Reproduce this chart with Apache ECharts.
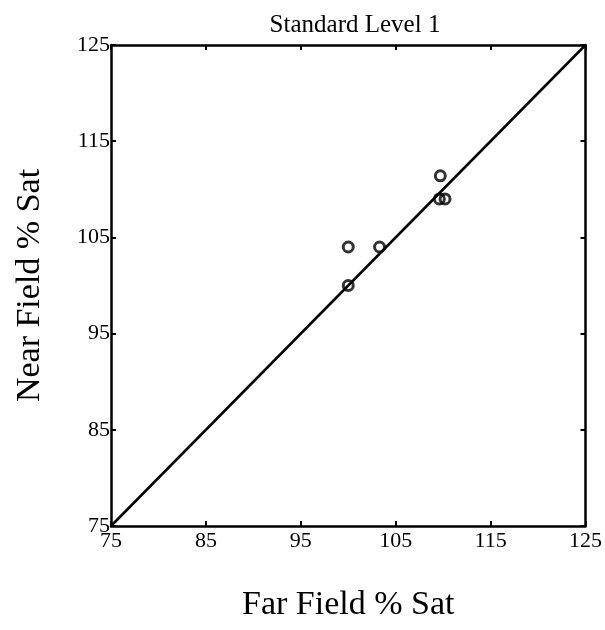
<!DOCTYPE html>
<html>
<head>
<meta charset="utf-8">
<script src="https://cdn.jsdelivr.net/npm/echarts@6/dist/echarts.min.js"></script>
<style>html,body{margin:0;padding:0;background:#fff;}#c{width:605px;height:630px;}</style>
</head>
<body>
<div id="c"></div>
<script>
const titleText = "Standard Level 1";
const xName = "Far Field % Sat";
const yName = "Near Field % Sat";
const axisMin = 75, axisMax = 125, axisStep = 10;
const farField = [109.7, 109.6, 110.2, 100.0, 103.3, 100.0];
const nearField = [111.4, 109.0, 109.0, 104.0, 104.0, 100.0];
const identityLine = [[75, 75], [125, 125]];

const points = farField.map((x, i) => [x, nearField[i]]);
const font = "'Liberation Serif', 'DejaVu Serif', serif";

const baseAxis = {
  min: axisMin, max: axisMax, interval: axisStep,
  axisLine: { show: true, onZero: false, lineStyle: { color: '#000', width: 2.5 } },
  axisTick: { show: true, inside: true, length: 5, lineStyle: { color: '#000', width: 2 } },
  splitLine: { show: false }
};

const chart = echarts.init(document.getElementById('c'), null, { renderer: 'canvas' });
chart.setOption({
  backgroundColor: '#fff',
  animation: false,
  title: {
    text: titleText, left: 350, top: 8, textAlign: 'center',
    textStyle: { fontFamily: font, fontSize: 25, fontWeight: 'normal', color: '#000' }
  },
  grid: { left: 111, right: 18, top: 45, bottom: 104 },
  xAxis: [
    Object.assign({}, baseAxis, {
      type: 'value', position: 'bottom',
      name: xName, nameLocation: 'middle', nameGap: 62,
      nameTextStyle: { fontFamily: font, fontSize: 34, color: '#000' },
      axisLabel: { fontFamily: font, fontSize: 22, color: '#000', margin: 4 }
    }),
    Object.assign({}, baseAxis, {
      type: 'value', position: 'top', axisLabel: { show: false }
    })
  ],
  yAxis: [
    Object.assign({}, baseAxis, {
      type: 'value', position: 'left',
      name: yName, nameLocation: 'middle', nameGap: 64,
      nameTextStyle: { fontFamily: font, fontSize: 34, color: '#000' },
      axisLabel: { fontFamily: font, fontSize: 22, color: '#000', margin: 1, padding: [0, 0, 12, 0] }
    }),
    Object.assign({}, baseAxis, {
      type: 'value', position: 'right', axisLabel: { show: false }
    })
  ],
  series: [
    {
      type: 'line', data: identityLine, symbol: 'none',
      lineStyle: { color: '#000', width: 2.5 }, silent: true, z: 2
    },
    {
      type: 'scatter', data: points, symbol: 'circle', symbolSize: 10,
      itemStyle: { color: 'rgba(0,0,0,0)', borderColor: '#000', borderWidth: 3 }, z: 3
    }
  ]
});
</script>
</body>
</html>
